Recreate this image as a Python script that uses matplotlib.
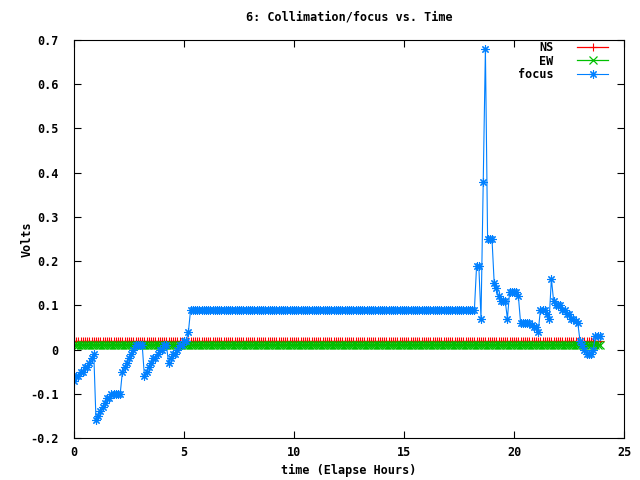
import matplotlib
matplotlib.use("Agg")
import matplotlib.pyplot as plt
from matplotlib.ticker import FuncFormatter

# sample times (hours), one reading every 6 minutes
hours = [round(i * 0.1, 1) for i in range(240)]

# focus readings, one row per hour
focus = [
    -0.07, -0.06, -0.06, -0.05, -0.05, -0.04, -0.04, -0.03, -0.02, -0.01,   # 0
    -0.16, -0.15, -0.14, -0.13, -0.12, -0.11, -0.11, -0.10, -0.10, -0.10,   # 1
    -0.10, -0.10, -0.05, -0.04, -0.03, -0.02, -0.01, 0.00, 0.01, 0.01,      # 2
    0.01, 0.01, -0.06, -0.05, -0.04, -0.03, -0.02, -0.02, -0.01, 0.00,      # 3
    0.00, 0.01, 0.01, -0.03, -0.02, -0.01, -0.01, 0.00, 0.01, 0.01,         # 4
    0.02, 0.02, 0.04, 0.09, 0.09, 0.09, 0.09, 0.09, 0.09, 0.09,             # 5
] + [0.09] * 120 + [                                                        # 6 - 17
    0.09, 0.09, 0.09, 0.19, 0.19, 0.07, 0.38, 0.68, 0.25, 0.25,             # 18
    0.25, 0.15, 0.14, 0.12, 0.11, 0.11, 0.11, 0.07, 0.13, 0.13,             # 19
    0.13, 0.13, 0.12, 0.06, 0.06, 0.06, 0.06, 0.06, 0.055, 0.05,            # 20
    0.05, 0.04, 0.09, 0.09, 0.09, 0.08, 0.07, 0.16, 0.11, 0.10,             # 21
    0.10, 0.10, 0.09, 0.09, 0.08, 0.08, 0.07, 0.07, 0.065, 0.06,            # 22
    0.02, 0.01, 0.00, -0.01, -0.01, -0.01, 0.00, 0.03, 0.03, 0.03,          # 23
]

ns = [0.02] * len(hours)
ew = [0.01] * len(hours)

x_ticks = [0, 5, 10, 15, 20, 25]
y_ticks = [-0.2, -0.1, 0, 0.1, 0.2, 0.3, 0.4, 0.5, 0.6, 0.7]

plt.rcParams['font.family'] = ['DejaVu Sans Mono']
plt.rcParams['font.size'] = 8.5
plt.rcParams['font.weight'] = 'bold'

fig = plt.figure(figsize=(6.4, 4.8), dpi=100)
ax = fig.add_axes([74 / 640, 1 - 438 / 480, 550 / 640, 398 / 480])

star = (8, 2, 0)
ax.plot(hours, ns, color='#ff0000', lw=0.9, marker='+', ms=6, mew=0.8, label='NS')
ax.plot(hours, ew, color='#00c000', lw=0.9, marker='x', ms=5.5, mew=0.9, label='EW')
ax.plot(hours, focus, color='#0080ff', lw=0.8, marker=star, ms=6, mew=0.8, label='focus')

ax.set_xlim(0, 25)
ax.set_ylim(-0.2, 0.7)
ax.set_xticks(x_ticks)
ax.set_yticks(y_ticks)
ax.xaxis.set_major_formatter(FuncFormatter(lambda v, p: '%g' % v))
ax.yaxis.set_major_formatter(FuncFormatter(lambda v, p: '%g' % round(v, 1)))
ax.tick_params(direction='in', length=5, width=0.8, top=True, right=True)
ax.tick_params(axis='x', pad=6)
ax.tick_params(axis='y', pad=11)
for s in ax.spines.values():
    s.set_linewidth(0.8)

ax.set_title('6: Collimation/focus vs. Time', fontsize=8.5, fontweight='bold', pad=14)
ax.set_xlabel('time (Elapse Hours)', fontweight='bold', labelpad=3)
ax.set_ylabel('Volts', fontweight='bold')
ax.yaxis.set_label_coords(-40 / 550, 0.5)

leg = ax.legend(loc='upper right', bbox_to_anchor=(1 - 16 / 550, 1 - 1 / 398),
                frameon=False, markerfirst=False, handlelength=2.6,
                handletextpad=2.0, labelspacing=0.05, borderaxespad=0.0,
                borderpad=0.0)
for t in leg.get_texts():
    t.set_ha('right')

fig.savefig('out.png', dpi=100)
